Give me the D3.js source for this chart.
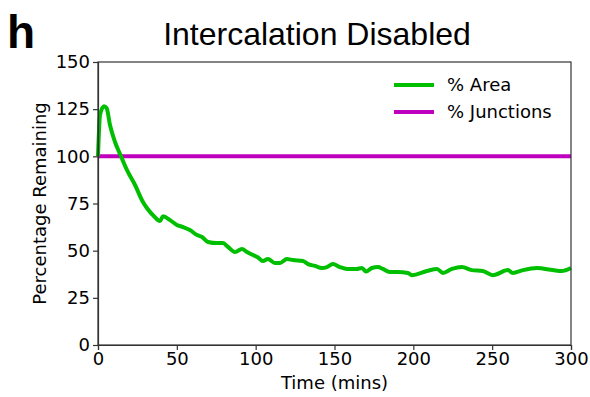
<!doctype html>
<html>
<head>
<style>
  body { margin: 0; background: #fff; }
  .axis text { font-family: "DejaVu Sans", sans-serif; font-size: 18px; fill: #000; }
  .axis path, .axis line { stroke: #333; stroke-width: 1.2; }
</style>
<script src="https://d3js.org/d3.v7.min.js"></script>
</head>
<body>
<svg width="590" height="397"></svg>
<script>
// data
var times = [0, 1.3, 3.8, 5.5, 7.6, 10.8, 14.6, 18.4, 23.5, 28.5, 31, 36, 39.3, 41.2, 45.7, 50, 54, 58.3,
  62.8, 66, 69.8, 75.5, 79.3, 82.4, 86.9, 91.3, 94.5, 98.3, 101.5, 104.6, 107.8, 112.2, 115.4, 119.8,
  123.7, 130, 133.2, 137.6, 142, 145.2, 149, 153.4, 158, 164, 167.4, 170, 173.7, 177.6, 180.7, 185,
  190, 196.6, 199, 208.6, 215, 218.8, 224.5, 230.8, 237, 244, 250.5, 260, 263, 269.5, 278.4, 288.5,
  294, 300];
var areaPct = [100, 122, 126.5, 125.5, 116.6, 107.6, 100, 92.7, 84.8, 75.8, 72.6, 67.8, 65.7, 68.2, 66.2,
  63.6, 62.5, 60.9, 58.3, 57.2, 54.6, 54, 54, 52, 49.3, 50.9, 49.3, 47.7, 46.4, 44.5, 45.6, 43.5, 43.5,
  45.6, 45, 44.5, 42.9, 41.9, 40.8, 41.3, 42.9, 41.3, 40.3, 40.3, 40.8, 38.9, 40.8, 41.3, 40.3, 38.7,
  38.7, 38.2, 37, 39.2, 40.3, 38.2, 40.3, 41.3, 39.7, 39.2, 37, 39.7, 38.2, 39.7, 40.8, 39.7, 39.2, 40.8];
var junctionPct = [100, 100];
var junctionTimes = [0, 300];
var xTicks = [0, 50, 100, 150, 200, 250, 300];
var yTicks = [0, 25, 50, 75, 100, 125, 150];
var seriesNames = ["% Area", "% Junctions"];
var seriesColors = ["#00bf00", "#bf00bf"];

var svg = d3.select("svg");
var mLeft = 98, mRight = 571, mTop = 62, mBottom = 345;

var x = d3.scaleLinear().domain([0, 300]).range([mLeft, mRight]);
var y = d3.scaleLinear().domain([0, 150]).range([mBottom, mTop]);

// lines
var line = d3.line().x(function(d) { return x(d[0]); }).y(function(d) { return y(d[1]); });

svg.append("path")
   .datum(d3.zip(junctionTimes, junctionPct))
   .attr("d", line)
   .attr("fill", "none")
   .attr("stroke", seriesColors[1])
   .attr("stroke-width", 4);

svg.append("path")
   .datum(d3.zip(times, areaPct))
   .attr("d", line.curve(d3.curveMonotoneX))
   .attr("fill", "none")
   .attr("stroke", seriesColors[0])
   .attr("stroke-width", 4)
   .attr("stroke-linejoin", "round");

// frame
svg.append("rect")
   .attr("x", mLeft).attr("y", mTop)
   .attr("width", mRight - mLeft).attr("height", mBottom - mTop)
   .attr("fill", "none").attr("stroke", "#333").attr("stroke-width", 1.2);

svg.append("g")
   .attr("class", "axis")
   .attr("transform", "translate(0," + mBottom + ")")
   .call(d3.axisBottom(x).tickValues(xTicks).tickSize(5).tickPadding(2));

svg.append("g")
   .attr("class", "axis")
   .attr("transform", "translate(" + mLeft + ",0)")
   .call(d3.axisLeft(y).tickValues(yTicks).tickSize(5).tickPadding(3));

// labels
svg.append("text")
   .attr("x", (mLeft + mRight) / 2).attr("y", 389)
   .attr("text-anchor", "middle")
   .style("font-family", "DejaVu Sans").style("font-size", "18px")
   .text("Time (mins)");

svg.append("text")
   .attr("transform", "translate(46," + (mTop + mBottom) / 2 + ") rotate(-90)")
   .attr("text-anchor", "middle")
   .style("font-family", "DejaVu Sans").style("font-size", "18px")
   .text("Percentage Remaining");

svg.append("text")
   .attr("x", 317).attr("y", 45)
   .attr("text-anchor", "middle")
   .style("font-family", "Liberation Sans").style("font-size", "32px")
   .text("Intercalation Disabled");

svg.append("text")
   .attr("x", 7).attr("y", 48)
   .style("font-family", "Liberation Sans").style("font-weight", "bold").style("font-size", "46px")
   .text("h");

// legend
var legend = svg.append("g").selectAll("g")
   .data(seriesNames)
   .enter().append("g")
   .attr("transform", function(d, i) { return "translate(394," + (85 + i * 27) + ")"; });

legend.append("line")
   .attr("x1", 0).attr("x2", 40)
   .attr("stroke", function(d, i) { return seriesColors[i]; })
   .attr("stroke-width", 4);

legend.append("text")
   .attr("x", 53).attr("y", 6)
   .style("font-family", "DejaVu Sans").style("font-size", "18px")
   .text(function(d) { return d; });
</script>
</body>
</html>
